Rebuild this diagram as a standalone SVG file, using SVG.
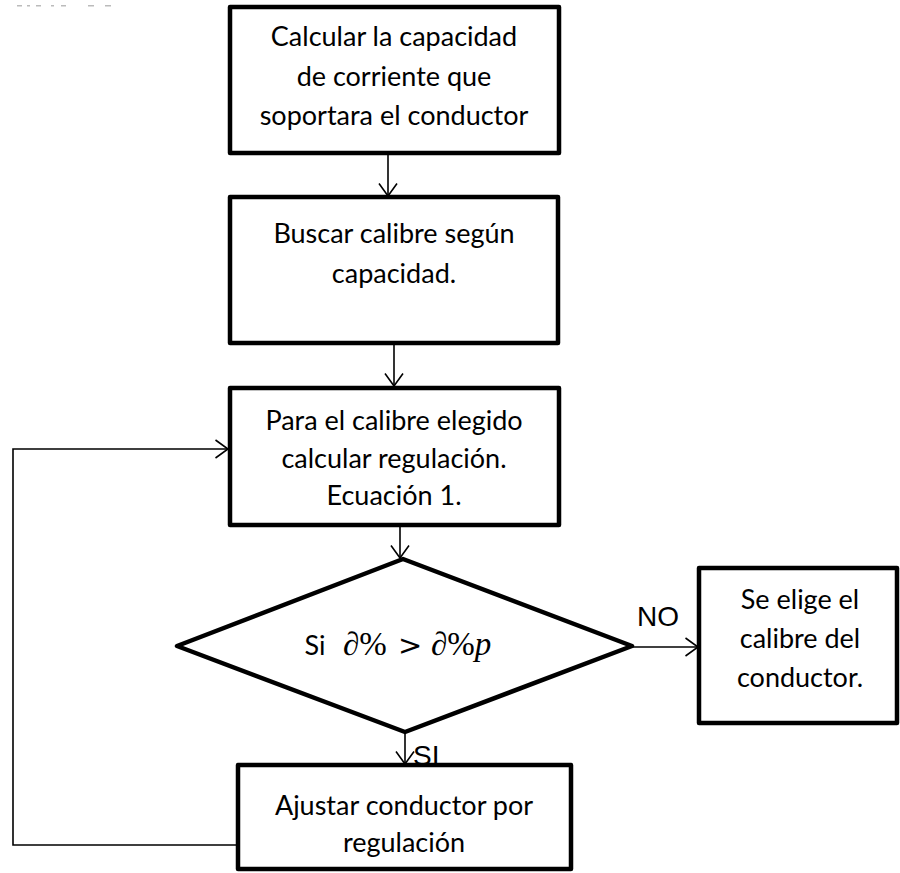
<svg xmlns="http://www.w3.org/2000/svg" width="900" height="873" viewBox="0 0 900 873">
<style>
.box{fill:#fff;stroke:#000;stroke-width:4.5;stroke-linejoin:round}
.t{font-family:Lato,"Open Sans","Liberation Sans",sans-serif;font-size:27px;fill:#000;text-anchor:middle}
.c{fill:none;stroke:#000;stroke-width:1.6}
.lbl{font-family:"Liberation Sans",Arial,sans-serif;font-size:28px;fill:#000}
.m{font-family:"Liberation Serif","DejaVu Serif",serif;font-size:33px;fill:#000}
.gt{font-family:"DejaVu Sans",sans-serif;font-size:29px;fill:#000}
.i{font-style:italic}
.frag{fill:#bbb}
</style>
<defs>
<marker id="ah" viewBox="0 0 14 20" refX="13.5" refY="10" markerWidth="14" markerHeight="20" markerUnits="userSpaceOnUse" orient="auto">
<path d="M1,1 L13.5,10 L1,19" fill="none" stroke="#000" stroke-width="1.6"/>
</marker>
</defs>
<rect width="900" height="873" fill="#fff"/>
<g id="fragments">
<rect class="frag" x="17" y="5" width="5" height="1.5"/>
<rect class="frag" x="27" y="5" width="3" height="1.5"/>
<rect class="frag" x="36" y="5" width="5" height="1.5"/>
<rect class="frag" x="51" y="5" width="3" height="1.5"/>
<rect class="frag" x="61" y="5" width="5" height="1.5"/>
<rect class="frag" x="88" y="5" width="6" height="1.5"/>
<rect class="frag" x="105" y="5" width="6" height="1.5"/>
</g>
<g id="connectors">
<line class="c" x1="388" y1="153" x2="388" y2="196" marker-end="url(#ah)"/>
<line class="c" x1="394" y1="343" x2="394" y2="386" marker-end="url(#ah)"/>
<line class="c" x1="400" y1="525" x2="400" y2="558" marker-end="url(#ah)"/>
<line class="c" x1="632" y1="647" x2="698" y2="647" marker-end="url(#ah)"/>
<line class="c" x1="405" y1="732" x2="405" y2="764" marker-end="url(#ah)"/>
<polyline class="c" points="238,845 13,845 13,449 228,449" marker-end="url(#ah)"/>
</g>
<g id="n1">
<rect class="box" x="230" y="7" width="329" height="146"/>
<text class="t" x="394" y="46">Calcular la capacidad</text>
<text class="t" x="394" y="86">de corriente que</text>
<text class="t" x="394" y="125">soportara el conductor</text>
</g>
<g id="n2">
<rect class="box" x="230" y="197" width="328" height="146"/>
<text class="t" x="394" y="243">Buscar calibre según</text>
<text class="t" x="394" y="283">capacidad.</text>
</g>
<g id="n3">
<rect class="box" x="230" y="388" width="329" height="137"/>
<text class="t" x="394" y="430">Para el calibre elegido</text>
<text class="t" x="394" y="468">calcular regulación.</text>
<text class="t" x="394" y="505">Ecuación 1.</text>
</g>
<g id="n4">
<polygon class="box" points="403,559 632,646 405,732 177,646"/>
<text class="t" x="315" y="655" text-anchor="start">Si</text>
<text class="m" x="343" y="655"><tspan class="i">∂</tspan>%</text>
<text class="gt" x="398" y="655">&gt;</text>
<text class="m" x="431" y="655"><tspan class="i">∂</tspan>%<tspan class="i">p</tspan></text>
</g>
<g id="n5">
<rect class="box" x="699" y="568" width="198" height="155"/>
<text class="t" x="800" y="609">Se elige el</text>
<text class="t" x="800" y="648">calibre del</text>
<text class="t" x="800" y="687">conductor.</text>
</g>
<g id="n6">
<rect class="box" x="238" y="765" width="333" height="104"/>
<text class="t" x="404" y="815">Ajustar conductor por</text>
<text class="t" x="404" y="852">regulación</text>
</g>
<g id="labels">
<text class="lbl" x="637" y="626">NO</text>
<text class="lbl" x="413" y="765">SI</text>
</g>
</svg>
